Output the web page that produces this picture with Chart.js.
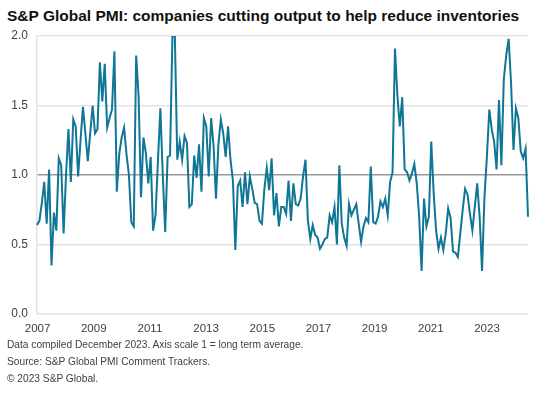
<!DOCTYPE html>
<html>
<head>
<meta charset="utf-8">
<script src="https://cdn.jsdelivr.net/npm/chart.js@4/dist/chart.umd.min.js"></script>
<style>
  body { margin: 0; background: #fff; width: 538px; height: 397px; overflow: hidden; position: relative; font-family: "Liberation Sans", Arial, sans-serif; }
  #title { position: absolute; left: 7px; top: 8px; font-size: 15.5px; line-height: 15.5px; font-weight: bold; color: #111; white-space: nowrap; }
  #wrap { position: absolute; left: 0; top: 0; width: 538px; height: 340px; }
  #notes { position: absolute; left: 7px; top: 336px; font-size: 10.2px; line-height: 17px; color: #404040; white-space: nowrap; }
</style>
</head>
<body>
<div id="title">S&amp;P Global PMI: companies cutting output to help reduce inventories</div>
<div id="wrap"><canvas id="canvas" width="538" height="340"></canvas></div>
<div id="notes">
  Data compiled December 2023. Axis scale 1 = long term average.<br>
  Source: S&amp;P Global PMI Comment Trackers.<br>
  &copy; 2023 S&amp;P Global.
</div>
<script>
// monthly index values, Jan..Dec of each year (1 = long term average)
var years = [2007, 2008, 2009, 2010, 2011, 2012, 2013, 2014, 2015, 2016, 2017, 2018, 2019, 2020, 2021, 2022, 2023];
var tickYears = [2007, 2009, 2011, 2013, 2015, 2017, 2019, 2021, 2023];
var yTicks = [0, 0.5, 1, 1.5, 2];

var v2007 = [0.64, 0.67, 0.80, 0.95, 0.65, 1.04, 0.35, 0.73, 0.60, 1.12, 1.07, 0.58];
var v2008 = [1.00, 1.33, 0.95, 1.40, 1.35, 0.99, 1.25, 1.49, 1.30, 1.10, 1.30, 1.50];
var v2009 = [1.30, 1.33, 1.81, 1.53, 1.80, 1.34, 1.41, 1.47, 1.89, 0.88, 1.15, 1.27];
var v2010 = [1.34, 1.15, 1.00, 0.66, 0.63, 1.86, 1.57, 0.84, 1.27, 1.16, 0.94, 1.13];
var v2011 = [0.60, 0.71, 1.10, 1.48, 1.00, 0.59, 1.13, 1.14, 2.00, 2.00, 1.11, 1.24];
var v2012 = [1.11, 1.28, 1.23, 0.77, 0.79, 1.14, 0.98, 1.22, 0.88, 1.41, 1.35, 0.99];
var v2013 = [1.41, 1.21, 0.83, 1.22, 1.40, 1.30, 1.13, 1.35, 1.11, 0.96, 0.46, 0.92];
var v2014 = [0.96, 0.77, 1.02, 0.79, 0.99, 0.90, 0.80, 0.79, 0.67, 0.65, 0.90, 1.05];
var v2015 = [0.89, 1.12, 0.71, 0.87, 0.63, 0.77, 0.77, 0.72, 0.96, 0.67, 0.94, 0.79];
var v2016 = [0.78, 0.83, 0.99, 1.11, 0.67, 0.54, 0.64, 0.57, 0.55, 0.47, 0.50, 0.54];
var v2017 = [0.55, 0.71, 0.66, 0.77, 0.50, 1.07, 0.65, 0.55, 0.49, 0.79, 0.71, 0.75];
var v2018 = [0.79, 0.65, 0.52, 0.63, 0.69, 0.66, 1.06, 0.66, 0.65, 0.70, 0.81, 0.77];
var v2019 = [0.83, 0.71, 0.95, 1.02, 1.91, 1.57, 1.35, 1.56, 1.04, 1.02, 0.96, 1.01];
var v2020 = [1.08, 0.94, 0.70, 0.31, 0.83, 0.63, 0.70, 1.24, 0.87, 0.60, 0.47, 0.55];
var v2021 = [0.46, 0.58, 0.76, 0.69, 0.45, 0.44, 0.41, 0.58, 0.75, 0.90, 0.86, 0.72];
var v2022 = [0.60, 0.77, 0.94, 0.70, 0.31, 0.84, 1.13, 1.47, 1.33, 1.24, 1.04, 1.54];
var v2023 = [1.07, 1.69, 1.86, 1.98, 1.66, 1.18, 1.48, 1.41, 1.17, 1.12, 1.19, 0.70];

var byYear = [v2007, v2008, v2009, v2010, v2011, v2012, v2013, v2014, v2015, v2016, v2017, v2018, v2019, v2020, v2021, v2022, v2023];

var labels = [];
var values = [];
for (var y = 0; y < years.length; y++) {
	for (var m = 0; m < 12; m++) {
		labels.push(years[y] + '-' + (m < 9 ? '0' : '') + (m + 1));
		values.push(byYear[y][m]);
	}
}

var fontFamily = '"Liberation Sans", Arial, sans-serif';

var c = document.getElementById('canvas');
var chart = new Chart(c, {
	type: 'line',
	data: {
		labels: labels,
		datasets: [{
			data: values,
			borderColor: '#0f7696',
			borderWidth: 2,
			pointRadius: 0,
			tension: 0,
			fill: false
		}]
	},
	options: {
		responsive: false,
		animation: false,
		layout: { padding: { top: 36, right: 10, left: 0, bottom: 0 } },
		plugins: { legend: { display: false }, tooltip: { enabled: false } },
		scales: {
			x: {
				type: 'category',
				offset: false,
				display: false
			},
			// year labels, spaced like the source axis
			years: {
				type: 'linear',
				position: 'bottom',
				axis: 'x',
				min: 2006.98,
				max: 2024.46,
				afterBuildTicks: function (s) { s.ticks = tickYears.map(function (t) { return { value: t }; }); },
				grid: { display: false, drawTicks: false },
				border: { display: false },
				ticks: {
					autoSkip: false,
					maxRotation: 0,
					padding: 8,
					color: '#404040',
					font: { family: fontFamily, size: 11.5 },
					callback: function (v) { return String(v); }
				},
				afterFit: function (s) { s.height = 26; }
			},
			y: {
				min: 0,
				max: 2,
				afterBuildTicks: function (s) { s.ticks = yTicks.map(function (t) { return { value: t }; }); },
				grid: {
					drawTicks: false,
					color: function (ctx) { return ctx.tick && ctx.tick.value === 1 ? '#9a9a9a' : '#e3e3e3'; },
					lineWidth: 1.5
				},
				border: { display: true, color: '#e3e3e3', width: 1.5 },
				ticks: {
					padding: 9,
					color: '#404040',
					font: { family: fontFamily, size: 12 },
					callback: function (v) { return v.toFixed(1); }
				},
				afterFit: function (s) { s.width = 37; }
			}
		}
	}
});
</script>
</body>
</html>
